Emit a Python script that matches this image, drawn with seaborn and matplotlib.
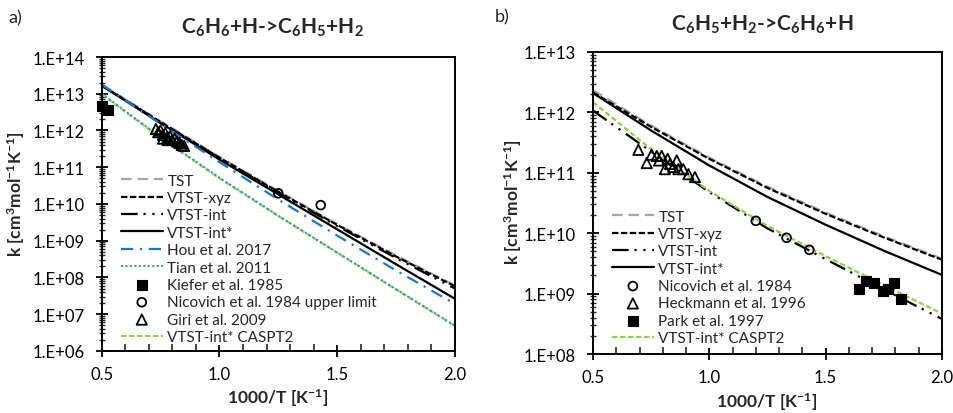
import numpy as np
import matplotlib
matplotlib.use("Agg")
import matplotlib.pyplot as plt
from matplotlib.ticker import FixedLocator, FuncFormatter, LogLocator, NullFormatter, MultipleLocator
import seaborn as sns

sns.set_theme(style="white")
plt.rcParams["font.family"] = ["Lato", "DejaVu Sans"]
plt.rcParams["mathtext.fontset"] = "custom"
plt.rcParams["mathtext.rm"] = "Lato"
plt.rcParams["mathtext.bf"] = "Lato:bold"
plt.rcParams["mathtext.default"] = "regular"

# ---------------- panel a) C6H6 + H -> C6H5 + H2 ----------------
inv_T = [0.5, 0.75, 1.0, 1.25, 1.5, 1.75, 2.0]

a_tst = [1.78e13, 1.78e12, 1.91e11, 2.24e10, 2.82e9, 3.98e8, 6.03e7]
a_vtst_xyz = [1.70e13, 1.70e12, 1.82e11, 2.14e10, 2.69e9, 3.72e8, 5.75e7]
a_vtst_int = [1.66e13, 1.66e12, 1.78e11, 2.04e10, 2.51e9, 3.39e8, 5.01e7]
a_vtst_int_star = [1.66e13, 1.59e12, 1.62e11, 1.82e10, 2.04e9, 2.29e8, 2.63e7]
a_hou = [1.78e13, 1.51e12, 1.38e11, 1.32e10, 1.38e9, 1.55e8, 1.91e7]
a_tian = [1.00e13, 6.60e11, 5.20e10, 4.80e9, 4.80e8, 4.80e7, 4.90e6]
a_caspt2 = [9.80e12, 6.30e11, 5.00e10, 4.70e9, 4.70e8, 4.70e7, 4.80e6]

kiefer_x = [0.50, 0.525]
kiefer_k = [4.7e12, 3.6e12]

nicovich_ul_x = [1.25, 1.43]
nicovich_ul_k = [1.95e10, 9.3e9]

giri_x = [0.73, 0.74, 0.75, 0.76, 0.77, 0.78, 0.79, 0.80, 0.81, 0.82, 0.83, 0.84, 0.85, 0.76, 0.78]
giri_k = [1.1e12, 9.0e11, 1.0e12, 7.5e11, 8.5e11, 6.5e11, 7.0e11, 5.5e11, 6.0e11, 5.0e11, 4.6e11, 4.0e11, 3.8e11, 6.0e11, 5.5e11]

# ---------------- panel b) C6H5 + H2 -> C6H6 + H ----------------
b_tst = [2.34e12, 6.03e11, 1.78e11, 5.89e10, 2.19e10, 8.91e9, 3.80e9]
b_vtst_xyz = [2.14e12, 5.75e11, 1.70e11, 5.62e10, 2.09e10, 8.51e9, 3.63e9]
b_vtst_int = [1.07e12, 2.24e11, 4.79e10, 1.20e10, 3.72e9, 1.17e9, 3.80e8]
b_vtst_int_star = [2.09e12, 5.01e11, 1.32e11, 3.98e10, 1.38e10, 5.13e9, 2.04e9]
b_caspt2 = [1.48e12, 2.45e11, 5.01e10, 1.32e10, 4.17e9, 1.38e9, 4.68e8]

nicovich_x = [1.20, 1.332, 1.43]
nicovich_k = [1.6e10, 8.4e9, 5.3e9]

heckmann_x = [0.695, 0.731, 0.752, 0.774, 0.784, 0.795, 0.809, 0.821, 0.831, 0.845, 0.860, 0.867, 0.888, 0.910, 0.938]
heckmann_k = [2.4e11, 1.45e11, 2.0e11, 1.9e11, 1.6e11, 1.9e11, 1.15e11, 1.7e11, 1.4e11, 1.25e11, 1.6e11, 1.15e11, 1.15e11, 9.5e10, 8.5e10]

park_x = [1.644, 1.673, 1.709, 1.745, 1.769, 1.794, 1.824]
park_k = [1.2e9, 1.6e9, 1.5e9, 1.1e9, 1.2e9, 1.5e9, 8.2e8]

GREY = "#a6a6a6"
BLUE = "#1f78c4"
BLUE_DOT = "#2e8bd6"
GREEN = "#92d050"

LINE_STYLES = {
    "TST": dict(color=GREY, lw=1.6, ls=(0, (4.8, 2.6))),
    "VTST-xyz": dict(color="black", lw=1.6, ls=(0, (2.9, 1.1))),
    "VTST-int": dict(color="black", lw=1.6, ls=(0, (7.5, 2.6, 1.0, 3.0, 1.0, 3.0))),
    "VTST-int*": dict(color="black", lw=1.6, ls="-"),
    "Hou et al. 2017": dict(color=BLUE, lw=1.6, ls=(0, (5.5, 3.0, 1.0, 3.0))),
    "Tian et al. 2011": dict(color=BLUE_DOT, lw=1.4, ls=(0, (1.0, 1.3))),
    "VTST-int* CASPT2": dict(color=GREEN, lw=1.6, ls=(0, (2.4, 1.2))),
}


def draw_line(ax, x, y, label):
    st = LINE_STYLES[label]
    sns.lineplot(x=x, y=y, ax=ax, color=st["color"], linewidth=st["lw"],
                 linestyle=st["ls"], label=label, legend=False)


def draw_points(ax, x, y, marker, filled, size, label):
    if filled:
        sns.scatterplot(x=x, y=y, ax=ax, marker=marker, s=size, color="black",
                        edgecolor="black", linewidth=0.8, label=label, legend=False,
                        zorder=5, clip_on=False)
    else:
        sns.scatterplot(x=x, y=y, ax=ax, marker=marker, s=size, facecolor="none",
                        edgecolor="black", linewidth=1.3, label=label, legend=False,
                        zorder=5, clip_on=False)


def style_axes(ax, ymin, ymax):
    ax.set_yscale("log")
    ax.set_xlim(0.5, 2.0)
    ax.set_ylim(ymin, ymax)
    ax.xaxis.set_major_locator(FixedLocator([0.5, 1.0, 1.5, 2.0]))
    ax.xaxis.set_minor_locator(MultipleLocator(0.1))
    ax.xaxis.set_major_formatter(FuncFormatter(lambda v, p: f"{v:.1f}"))
    ax.yaxis.set_major_locator(LogLocator(base=10, numticks=20))
    ax.yaxis.set_minor_locator(LogLocator(base=10, subs=np.arange(2, 10), numticks=20))
    ax.yaxis.set_minor_formatter(NullFormatter())
    ax.yaxis.set_major_formatter(FuncFormatter(lambda v, p: f"1.E+{int(round(np.log10(v))):02d}"))
    ax.tick_params(axis="x", which="major", direction="inout", length=9, width=1.3,
                   labelsize=12, colors="black", pad=6, bottom=True, top=False)
    ax.tick_params(axis="x", which="minor", direction="in", length=5, width=1.2,
                   bottom=True, top=False)
    ax.tick_params(axis="y", which="major", direction="inout", length=9, width=1.3,
                   labelsize=12, colors="black", pad=8, left=True, right=False)
    ax.tick_params(axis="y", which="minor", direction="inout", length=5, width=1.0,
                   left=True, right=False)
    for sp in ax.spines.values():
        sp.set_visible(True)
        sp.set_color("black")
        sp.set_linewidth(1.4)
    ax.set_xlabel("")
    ax.set_ylabel("")
    ax.grid(False)


LEGEND_KW = dict(frameon=False, fontsize=11, handlelength=2.75, handletextpad=0.3,
                 labelspacing=0.22, borderpad=0, borderaxespad=0, loc="upper left")

fig = plt.figure(figsize=(9.54, 4.14), dpi=100)
ax1 = fig.add_axes([0.1066, 0.1498, 0.3703, 0.7101])
ax2 = fig.add_axes([0.6216, 0.1425, 0.3658, 0.7295])

# panel a
draw_line(ax1, inv_T, a_tst, "TST")
draw_line(ax1, inv_T, a_vtst_xyz, "VTST-xyz")
draw_line(ax1, inv_T, a_vtst_int, "VTST-int")
draw_line(ax1, inv_T, a_vtst_int_star, "VTST-int*")
draw_line(ax1, inv_T, a_hou, "Hou et al. 2017")
draw_line(ax1, inv_T, a_caspt2, "VTST-int* CASPT2")
draw_line(ax1, inv_T, a_tian, "Tian et al. 2011")
draw_points(ax1, kiefer_x, kiefer_k, "s", True, 45, "Kiefer et al. 1985")
draw_points(ax1, nicovich_ul_x, nicovich_ul_k, "o", False, 40, "Nicovich et al. 1984 upper limit")
draw_points(ax1, giri_x, giri_k, "^", False, 55, "Giri et al. 2009")
style_axes(ax1, 1e6, 1e14)

order_a = ["TST", "VTST-xyz", "VTST-int", "VTST-int*", "Hou et al. 2017", "Tian et al. 2011",
           "Kiefer et al. 1985", "Nicovich et al. 1984 upper limit", "Giri et al. 2009",
           "VTST-int* CASPT2"]
h, l = ax1.get_legend_handles_labels()
hm = dict(zip(l, h))
ax1.legend([hm[k] for k in order_a], order_a, bbox_to_anchor=(0.054, 0.603), **LEGEND_KW)

# panel b
draw_line(ax2, inv_T, b_tst, "TST")
draw_line(ax2, inv_T, b_vtst_xyz, "VTST-xyz")
draw_line(ax2, inv_T, b_vtst_int, "VTST-int")
draw_line(ax2, inv_T, b_vtst_int_star, "VTST-int*")
draw_line(ax2, inv_T, b_caspt2, "VTST-int* CASPT2")
draw_points(ax2, nicovich_x, nicovich_k, "o", False, 40, "Nicovich et al. 1984")
draw_points(ax2, heckmann_x, heckmann_k, "^", False, 55, "Heckmann et al. 1996")
draw_points(ax2, park_x, park_k, "s", True, 45, "Park et al. 1997")
style_axes(ax2, 1e8, 1e13)

order_b = ["TST", "VTST-xyz", "VTST-int", "VTST-int*", "Nicovich et al. 1984",
           "Heckmann et al. 1996", "Park et al. 1997", "VTST-int* CASPT2"]
h, l = ax2.get_legend_handles_labels()
hm = dict(zip(l, h))
ax2.legend([hm[k] for k in order_b], order_b, bbox_to_anchor=(0.054, 0.478), **LEGEND_KW)

# titles, panel letters and axis labels
W, H = 954.0, 414.0
fig.text(272 / W, 1 - 28 / H, r"C$_6$H$_6$+H->C$_6$H$_5$+H$_2$", ha="center", va="center",
         fontsize=15, fontweight="bold")
fig.text(762 / W, 1 - 25 / H, r"C$_6$H$_5$+H$_2$->C$_6$H$_6$+H", ha="center", va="center",
         fontsize=15, fontweight="bold")
fig.text(15 / W, 1 - 18 / H, "a)", ha="center", va="center", fontsize=13)
fig.text(502 / W, 1 - 17 / H, "b)", ha="center", va="center", fontsize=13)

ylab = r"k [cm$^3$mol$^{-1}$K$^{-1}$]"
fig.text(16 / W, 1 - 194 / H, ylab, rotation=90, ha="center", va="center",
         fontsize=12.5, fontweight="bold")
fig.text(513 / W, 1 - 202 / H, ylab, rotation=90, ha="center", va="center",
         fontsize=12.5, fontweight="bold")
xlab = r"1000/T [K$^{-1}$]"
fig.text(278 / W, 1 - 404 / H, xlab, ha="center", va="baseline", fontsize=12.5, fontweight="bold")
fig.text(767 / W, 1 - 408 / H, xlab, ha="center", va="baseline", fontsize=12.5, fontweight="bold")

fig.savefig("out.png", dpi=100)
